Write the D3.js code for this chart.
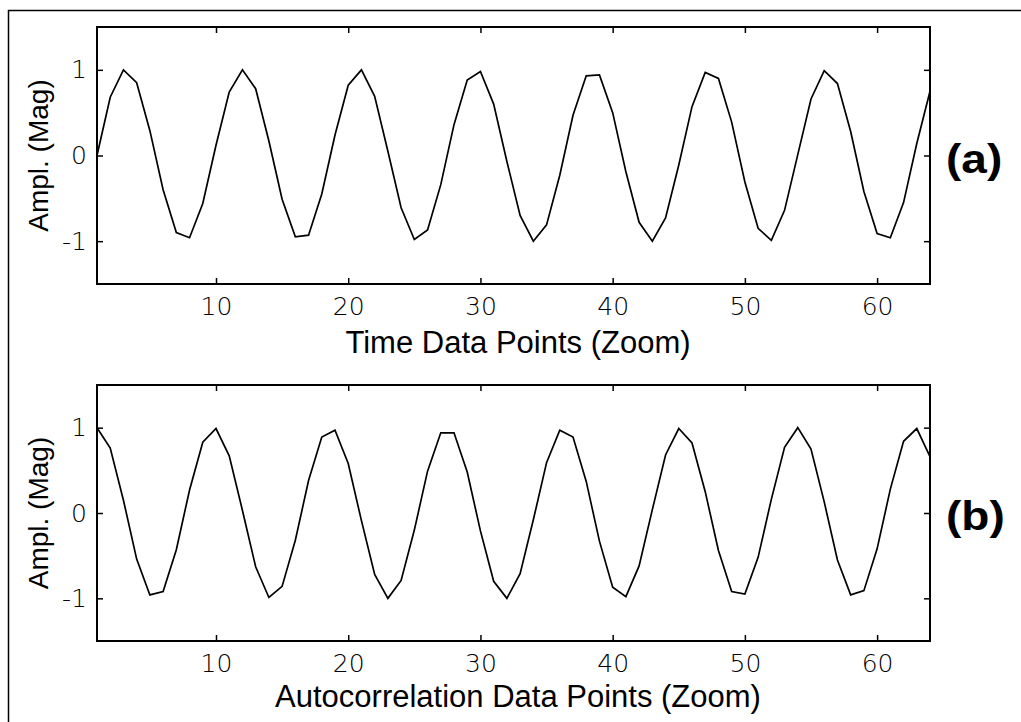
<!DOCTYPE html>
<html>
<head>
<meta charset="utf-8">
<script src="https://cdn.jsdelivr.net/npm/d3@7"></script>
<style>
  body { margin: 0; background: #fff; }
  svg { display: block; }
  text { font-family: "Liberation Sans", Arial, sans-serif; fill: #000; }
</style>
</head>
<body>
<svg id="chart" width="1021" height="722"></svg>
<script>
// Sample index shared by both traces
const sampleIndex = d3.range(1, 65);

// (a) time-domain samples
const timeSignal = [
   0.00,  0.68,  1.00,  0.85,  0.29, -0.40, -0.90, -0.96,
  -0.56,  0.12,  0.74,  1.00,  0.78,  0.17, -0.51, -0.95,
  -0.93, -0.45,  0.24,  0.82,  1.00,  0.69,  0.05, -0.61,
  -0.98, -0.87, -0.34,  0.36,  0.88,  0.98,  0.60, -0.07,
  -0.70, -1.00, -0.81, -0.23,  0.47,  0.93,  0.94,  0.50,
  -0.19, -0.78, -1.00, -0.73, -0.11,  0.57,  0.97,  0.90,
   0.39, -0.31, -0.85, -0.99, -0.64,  0.01,  0.66,  0.99,
   0.84,  0.28, -0.42, -0.91, -0.96, -0.55,  0.14,  0.75
];

// (b) autocorrelation samples
const autocorrSignal = [
   1.00,  0.76,  0.15, -0.54, -0.96, -0.92, -0.43,  0.27,
   0.83,  0.99,  0.67,  0.03, -0.63, -0.99, -0.86, -0.32,
   0.38,  0.89,  0.97,  0.58, -0.09, -0.72, -1.00, -0.79,
  -0.20,  0.49,  0.94,  0.94,  0.48, -0.21, -0.80, -1.00,
  -0.71, -0.08,  0.59,  0.97,  0.89,  0.37, -0.33, -0.87,
  -0.98, -0.62,  0.04,  0.68,  0.99,  0.82,  0.25, -0.44,
  -0.92, -0.95, -0.52,  0.16,  0.77,  1.00,  0.75,  0.13,
  -0.55, -0.96, -0.91, -0.42,  0.28,  0.84,  0.99,  0.66
];

const xTickValues = [10, 20, 30, 40, 50, 60];
const yTickValues = [-1, 0, 1];
const yTickLabels = ["-1", "0", "1"];
const xTitles = ["Time Data Points (Zoom)", "Autocorrelation Data Points (Zoom)"];
const yTitle = "Ampl. (Mag)";
const panelTags = ["(a)", "(b)"];

const svg = d3.select("#chart");

// Figure frame (left and top edges)
svg.append("path")
  .attr("d", "M8.5,722V10.5H1021")
  .attr("fill", "none")
  .attr("stroke", "#000")
  .attr("stroke-width", 1.5);

const plotLeft = 97, plotRight = 930;
const panels = [
  { top: 27, bottom: 284, values: timeSignal, xTitle: xTitles[0], tag: panelTags[0],
    xTitleY: 353, tagY: 173 },
  { top: 385, bottom: 641, values: autocorrSignal, xTitle: xTitles[1], tag: panelTags[1],
    xTitleY: 707, tagY: 530 }
];

const x = d3.scaleLinear().domain([1, 64]).range([plotLeft, plotRight]);

const tickFont = sel => sel.selectAll("text")
  .style("font-family", '"DejaVu Sans", sans-serif')
  .style("font-size", "25px")
  .style("font-weight", "300")
  .attr("fill", "#111");

panels.forEach(p => {
  const y = d3.scaleLinear().domain([-1.5, 1.5]).range([p.bottom, p.top]);
  const g = svg.append("g");

  // trace
  const line = d3.line()
    .x((d, i) => x(sampleIndex[i]))
    .y(d => y(d));
  g.append("path")
    .datum(p.values)
    .attr("d", line)
    .attr("fill", "none")
    .attr("stroke", "#000")
    .attr("stroke-width", 1.7)
    .attr("stroke-linejoin", "miter");

  // axes with inward ticks on all four sides
  g.append("g")
    .attr("transform", `translate(0,${p.bottom})`)
    .call(d3.axisBottom(x).tickValues(xTickValues).tickSizeInner(-6).tickSizeOuter(0).tickPadding(13))
    .call(tickFont)
    .call(a => a.select(".domain").remove());

  g.append("g")
    .attr("transform", `translate(0,${p.top})`)
    .call(d3.axisTop(x).tickValues(xTickValues).tickSizeInner(-6).tickSizeOuter(0).tickFormat(""))
    .call(a => a.select(".domain").remove());

  g.append("g")
    .attr("transform", `translate(${plotLeft},0)`)
    .call(d3.axisLeft(y).tickValues(yTickValues).tickSizeInner(-6).tickSizeOuter(0).tickPadding(10)
      .tickFormat(d => yTickLabels[yTickValues.indexOf(d)]))
    .call(tickFont)
    .call(a => a.select(".domain").remove());

  g.append("g")
    .attr("transform", `translate(${plotRight},0)`)
    .call(d3.axisRight(y).tickValues(yTickValues).tickSizeInner(-6).tickSizeOuter(0).tickFormat(""))
    .call(a => a.select(".domain").remove());

  g.selectAll(".tick line").attr("stroke", "#000").attr("stroke-width", 1.5);

  // plot box
  g.append("rect")
    .attr("x", plotLeft).attr("y", p.top)
    .attr("width", plotRight - plotLeft).attr("height", p.bottom - p.top)
    .attr("fill", "none").attr("stroke", "#000").attr("stroke-width", 2);

  // axis titles
  g.append("text")
    .attr("x", 518).attr("y", p.xTitleY)
    .attr("text-anchor", "middle")
    .style("font-size", "31px")
    .text(p.xTitle);

  g.append("text")
    .attr("transform", `translate(48,${(p.top + p.bottom) / 2}) rotate(-90)`)
    .attr("text-anchor", "middle")
    .style("font-size", "28px")
    .text(yTitle);

  // panel tag
  g.append("text")
    .attr("transform", `translate(946,${p.tagY}) scale(1.15,1)`)
    .style("font-size", "40px")
    .style("font-weight", "bold")
    .text(p.tag);
});
</script>
</body>
</html>
